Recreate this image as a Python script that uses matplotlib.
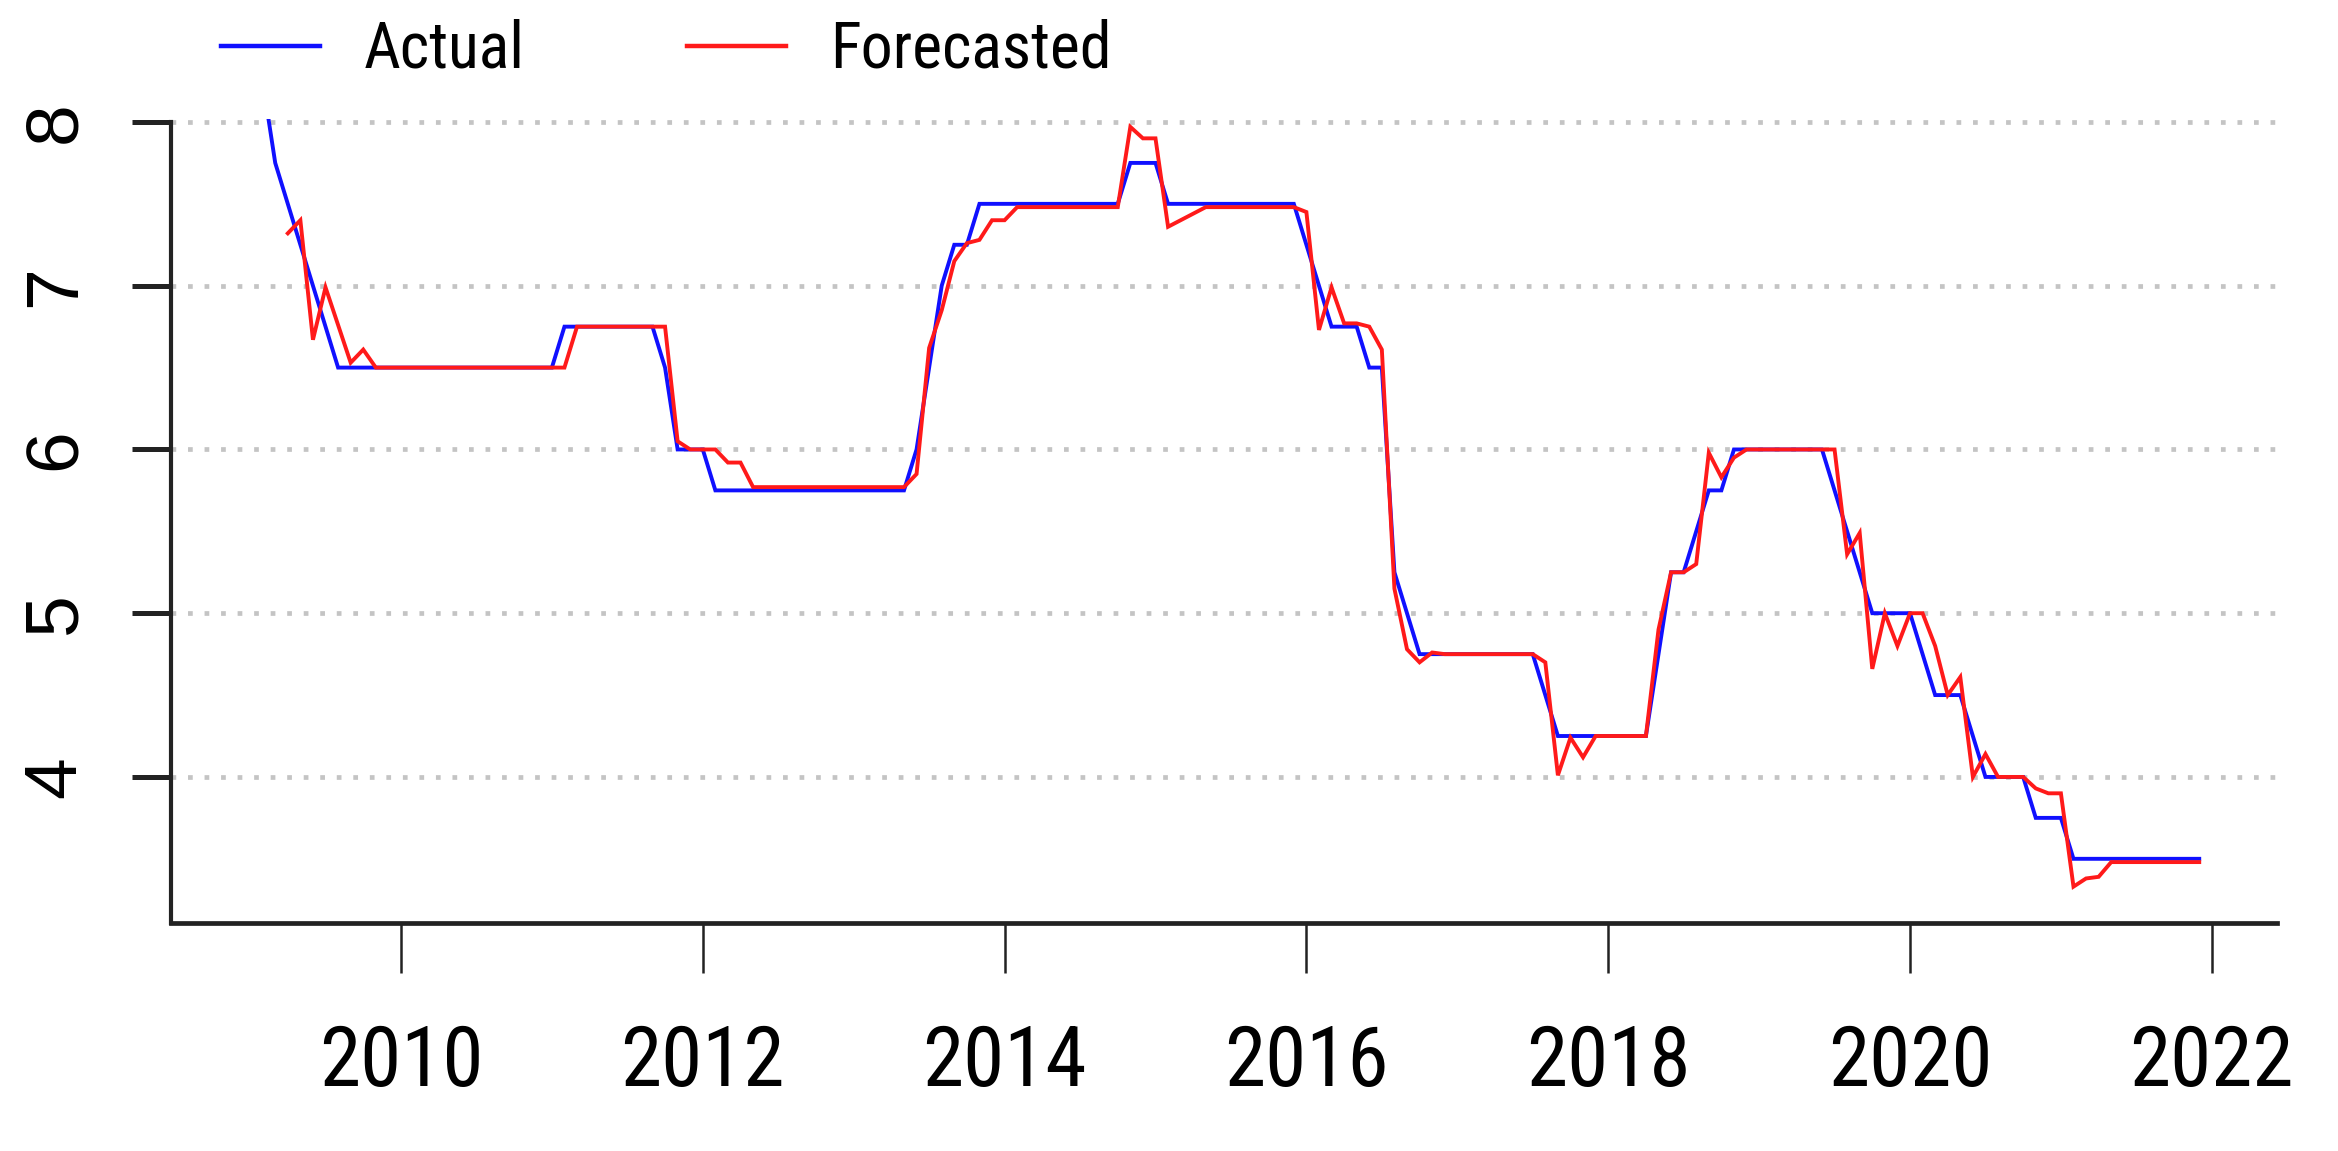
import matplotlib
matplotlib.use("Agg")
import matplotlib.pyplot as plt
import numpy as np
from matplotlib import font_manager
from matplotlib.lines import Line2D

# ------------------------------------------------------------
# data: monthly, first value = Jan 2009
# ------------------------------------------------------------
start_year = 2009

actual = (
    [8.75, 8.25, 7.75, 7.5, 7.25, 7.0, 6.75, 6.5, 6.5, 6.5, 6.5, 6.5]      # 2009
    + [6.5] * 12                                                          # 2010
    + [6.5] + [6.75] * 8 + [6.5, 6.0, 6.0]                                # 2011
    + [6.0] + [5.75] * 11                                                 # 2012
    + [5.75] * 5 + [6.0, 6.5, 7.0, 7.25, 7.25, 7.5, 7.5]                  # 2013
    + [7.5] * 10 + [7.75, 7.75]                                           # 2014
    + [7.75] + [7.5] * 11                                                 # 2015
    + [7.25, 7.0, 6.75, 6.75, 6.75, 6.5, 6.5, 5.25, 5.0, 4.75, 4.75, 4.75]  # 2016
    + [4.75] * 7 + [4.5] + [4.25] * 4                                     # 2017
    + [4.25] * 4 + [4.75, 5.25, 5.25, 5.5, 5.75, 5.75, 6.0, 6.0]          # 2018
    + [6.0] * 6 + [5.75, 5.5, 5.25, 5.0, 5.0, 5.0]                        # 2019
    + [5.0, 4.75, 4.5, 4.5, 4.5, 4.25, 4.0, 4.0, 4.0, 4.0, 3.75, 3.75]    # 2020
    + [3.75] + [3.5] * 11                                                 # 2021
)

# forecast starts Apr 2009
forecast_offset = 3
forecast = (
    [7.32, 7.40, 6.67, 6.99, 6.76, 6.53, 6.61, 6.5, 6.5]                  # 2009 (Apr-Dec)
    + [6.5] * 12                                                          # 2010
    + [6.5, 6.5] + [6.75] * 8 + [6.05, 6.0]                               # 2011
    + [6.0, 6.0, 5.92, 5.92] + [5.77] * 8                                 # 2012
    + [5.77] * 5 + [5.85, 6.62, 6.85, 7.15, 7.26, 7.28, 7.40]             # 2013
    + [7.40] + [7.48] * 9 + [7.97, 7.90]                                  # 2014
    + [7.90, 7.36, 7.40, 7.44] + [7.48] * 8                               # 2015
    + [7.45, 6.73, 6.99, 6.77, 6.77, 6.75, 6.61, 5.15, 4.78, 4.70, 4.76, 4.75]  # 2016
    + [4.75] * 7 + [4.70, 4.01, 4.24, 4.12, 4.25]                         # 2017
    + [4.25] * 4 + [4.90, 5.25, 5.25, 5.30, 5.98, 5.83, 5.95, 6.0]        # 2018
    + [6.0] * 7 + [5.36, 5.49, 4.66, 5.0, 4.80]                           # 2019
    + [5.0, 5.0, 4.80, 4.50, 4.61, 4.0, 4.14, 4.0, 4.0, 4.0, 3.93, 3.90]  # 2020
    + [3.90, 3.33, 3.38, 3.39] + [3.48] * 8                               # 2021
)

year_ticks = [2010, 2012, 2014, 2016, 2018, 2020, 2022]
value_ticks = [4, 5, 6, 7, 8]

t_actual = start_year + np.arange(len(actual)) / 12
t_forecast = start_year + (forecast_offset + np.arange(len(forecast))) / 12


# the original uses a tall, narrow Arial-like face -> look for a condensed sans
def find_narrow():
    prefs = ["liberation sans narrow", "arial narrow", "roboto condensed",
             "open sans condensed", "noto sans", "open sans", "roboto",
             "dejavu sans", "liberation sans"]
    found = []
    for f in font_manager.fontManager.ttflist:
        nm = f.name.lower()
        narrow_name = "narrow" in nm or "condensed" in nm
        if not (narrow_name or f.stretch in ("condensed", "semi-condensed")):
            continue
        if f.style != "normal" or f.weight not in (400, "normal", "regular"):
            continue
        rank = len(prefs)
        for i, p in enumerate(prefs):
            if nm.startswith(p):
                rank = i
                break
        if f.stretch == "semi-condensed":
            rank += 0.5
        found.append((rank, f.fname))
    if found:
        found.sort()
        return font_manager.FontProperties(fname=found[0][1]), True
    return font_manager.FontProperties(family=["Liberation Sans", "DejaVu Sans"]), False


narrow_fp, is_narrow = find_narrow()
regular = ["Liberation Sans", "DejaVu Sans"]

W, H = 2338, 1151
fig = plt.figure(figsize=(W / 100, H / 100), dpi=100)
ax = fig.add_axes([171 / W, 1 - 923 / H, (2277 - 171) / W, (923 - 118.7) / H])

ax.plot(t_actual, actual, color="#1010ff", lw=2.8, solid_joinstyle="miter")
ax.plot(t_forecast, forecast, color="#ff1a1a", lw=2.8, solid_joinstyle="miter")

ax.set_xlim(2008.476, 2022.432)
ax.set_ylim(3.108, 8.02)

# dotted horizontal grid
ax.set_yticks(value_ticks)
ax.yaxis.grid(True, color="#c4c4c4", lw=3.4, linestyle=(0, (1, 2.5)))
ax.set_axisbelow(True)

for s in ["top", "right"]:
    ax.spines[s].set_visible(False)
ax.spines["left"].set_bounds(3.108, 8.0)
ax.spines["left"].set_linewidth(3.0)
ax.spines["bottom"].set_linewidth(3.4)
ax.spines["left"].set_color("#222222")
ax.spines["bottom"].set_color("#222222")

xfs = 60 if is_narrow else 50
ax.set_xticks(year_ticks)
ax.set_xticklabels([str(y) for y in year_ticks])
for lab in ax.get_xticklabels():
    lab.set_fontproperties(narrow_fp)
    lab.set_fontsize(xfs)
ax.tick_params(axis="x", length=36, width=1.8, color="#222222",
               pad=36 if is_narrow else 44)

ax.set_yticklabels([str(v) for v in value_ticks], fontsize=54, family=regular,
                   rotation=90, va="center")
ax.tick_params(axis="y", length=28, width=3.6, color="#222222", pad=30)

# legend above the plot
handles = [Line2D([], [], color="#1010ff", lw=3.2),
           Line2D([], [], color="#ff1a1a", lw=3.2)]
leg_fp = narrow_fp.copy()
leg_fp.set_size(46 if is_narrow else 42)
fig.legend(handles, ["Actual", "Forecasted"], loc="center left",
           bbox_to_anchor=(221 / W, 1 - 50 / H), ncol=2, frameon=False,
           prop=leg_fp, handlelength=1.55 if is_narrow else 1.7,
           handletextpad=0.68, columnspacing=2.55 if is_narrow else 3.1,
           borderpad=0, borderaxespad=0)

fig.savefig("out.png", dpi=100, facecolor="white")
